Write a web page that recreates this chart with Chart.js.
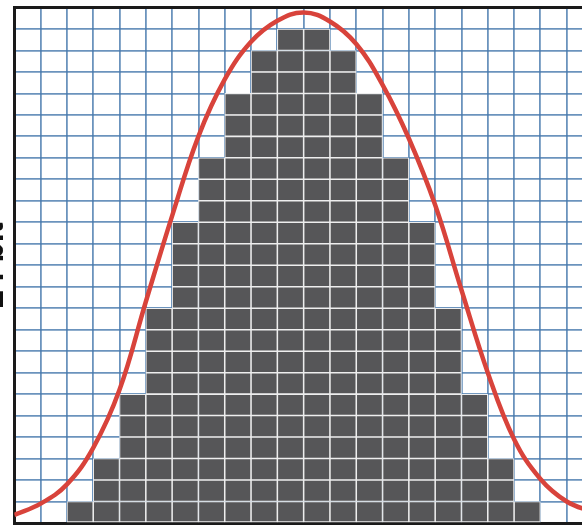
<!DOCTYPE html>
<html>
<head>
<meta charset="utf-8">
<script src="https://cdn.jsdelivr.net/npm/chart.js@4/dist/chart.umd.min.js"></script>
<style>
  html, body { margin:0; padding:0; background:#fff; overflow:hidden; width:582px; height:525px; }
  #wrap { position:absolute; left:-24px; top:0; width:617px; height:525px; }
</style>
</head>
<body>
<div id="wrap"><canvas id="chart" width="617" height="525"></canvas></div>
<script>
// bins across the plot (22 columns, the last one cut off at the right edge)
const bins = ['1','2','3','4','5','6','7','8','9','10','11','12','13','14','15','16','17','18','19','20','21','22'];
// stacked cells per column
const counts = [0, 0, 1, 3, 6, 10, 14, 17, 20, 22, 23, 23, 22, 20, 17, 14, 10, 6, 3, 1, 0, 0];
// red bell curve, read at every column boundary (0..22)
const curveX = [0, 1, 2, 3, 4, 5, 6, 7, 8, 9, 10, 11, 12, 13, 14, 15, 16, 17, 18, 19, 20, 21, 22];
const curveY = [0.38, 0.9, 1.8, 3.5, 6.2, 10.3, 14.3, 18.0, 20.65, 22.4, 23.38, 23.77, 23.35, 22.3, 20.4, 17.9, 14.8, 10.85, 7.0, 3.9, 2.05, 1.0, 0.5];
const yMax = 24;
const axisTitle = '24 bit';

function init(){
  // one dataset per row of cells so each cell gets its own white outline
  const maxCount = Math.max(...counts);
  const cellSets = [];
  for(let k = 0; k < maxCount; k++){
    cellSets.push({
      type:'bar',
      data: counts.map(c => c > k ? 1 : null),
      backgroundColor:'#565658',
      borderColor:'#eeeeee',
      borderWidth:1.1,
      borderSkipped:false,
      barPercentage:1,
      categoryPercentage:1,
      grouped:false,
      stack:'cells',
      xAxisID:'x', yAxisID:'y',
      order:1
    });
  }

  const curve = {
    type:'line',
    data: curveX.map((x, i) => ({x, y: curveY[i]})),
    borderColor:'#d8433b',
    borderWidth:4.5,
    pointRadius:0,
    tension:0.4,
    fill:false,
    xAxisID:'x2', yAxisID:'y2',
    order:0
  };

  const blue = 'rgba(70,120,172,0.8)';

  new Chart(document.getElementById('chart').getContext('2d'), {
    type:'bar',
    data:{ labels: bins, datasets: [...cellSets, curve] },
    options:{
      responsive:false,
      animation:false,
      layout:{ padding:{ left:0, right:0, top:7.5, bottom:2 } },
      plugins:{ legend:{display:false}, tooltip:{enabled:false} },
      scales:{
        x:{
          stacked:true,
          ticks:{display:false},
          grid:{ color:blue, lineWidth:1.8, drawTicks:false, offset:true },
          border:{ display:true, color:'#1a1a1a', width:3 }
        },
        y:{
          stacked:true, min:0, max:yMax,
          ticks:{display:false, stepSize:1},
          grid:{ color:blue, lineWidth:1.8, drawTicks:false },
          border:{ display:true, color:'#1a1a1a', width:3 },
          title:{ display:true, text:axisTitle, color:'#111',
                  font:{ family:'"Liberation Sans", Arial, sans-serif', size:33, weight:'bold', lineHeight:1.1 },
                  padding:{top:0, bottom:2} }
        },
        x2:{
          type:'linear', position:'top', min:0, max:bins.length, offset:false,
          ticks:{display:false},
          grid:{ display:false, drawTicks:false, offset:false },
          border:{ display:true, color:'#1a1a1a', width:3 }
        },
        y2:{
          type:'linear', position:'right', min:0, max:yMax, display:false
        }
      }
    }
  });
}
document.addEventListener('DOMContentLoaded', init);
</script>
</body>
</html>
